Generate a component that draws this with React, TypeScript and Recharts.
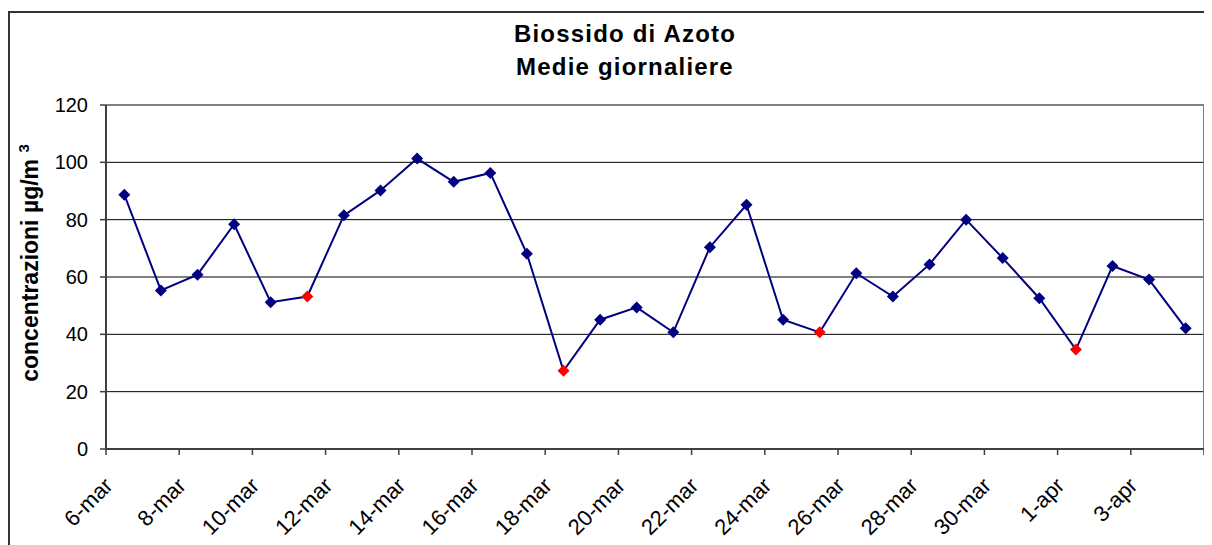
import React from "react";
import {
  LineChart,
  Line,
  XAxis,
  YAxis,
  CartesianGrid,
  ReferenceLine,
} from "recharts";

const dates = [
  "6-mar", "7-mar", "8-mar", "9-mar", "10-mar", "11-mar", "12-mar", "13-mar",
  "14-mar", "15-mar", "16-mar", "17-mar", "18-mar", "19-mar", "20-mar", "21-mar",
  "22-mar", "23-mar", "24-mar", "25-mar", "26-mar", "27-mar", "28-mar", "29-mar",
  "30-mar", "31-mar", "1-apr", "2-apr", "3-apr", "4-apr",
];

const no2 = [
  88.7, 55.3, 60.8, 78.4, 51.2, 53.2, 81.5, 90.2,
  101.3, 93.2, 96.3, 68.1, 27.3, 45.1, 49.4, 40.7,
  70.4, 85.2, 45.1, 40.7, 61.3, 53.2, 64.4, 80.0,
  66.6, 52.6, 34.7, 63.8, 59.1, 42.1,
];

// days drawn with a red marker
const highlighted = ["11-mar", "18-mar", "25-mar", "1-apr"];

const yTicks = [0, 20, 40, 60, 80, 100, 120];

const NAVY = "#000080";
const RED = "#FF0000";
const FONT = '"Liberation Sans", Arial, sans-serif';

const data = dates.map((d, i) => ({
  x: i + 0.5,
  date: d,
  value: no2[i],
  red: highlighted.includes(d),
}));

// tick marks sit on category boundaries, one label every two days
const xTicks = dates.map((_, i) => i).filter((i) => i % 2 === 0).concat([dates.length]);

const Diamond = (props: any) => {
  const { cx, cy, payload, index } = props;
  if (cx == null || cy == null) return null;
  const r = 6;
  return (
    <path
      key={`dot-${index}`}
      d={`M${cx},${cy - r}L${cx + r},${cy}L${cx},${cy + r}L${cx - r},${cy}Z`}
      fill={payload.red ? RED : NAVY}
      stroke="none"
    />
  );
};

const XTick = (props: any) => {
  const { x, y, payload } = props;
  const label = dates[payload.value];
  if (!label) return null;
  const tx = x + 8;
  const ty = y + 32;
  return (
    <text
      x={tx}
      y={ty}
      textAnchor="end"
      transform={`rotate(-45, ${tx}, ${ty})`}
      fontSize={22}
      fontFamily={FONT}
      fill="#000"
    >
      {label}
    </text>
  );
};

export default function App() {
  return (
    <div
      style={{
        position: "relative",
        top: 3,
        width: 1230,
        height: 560,
        borderTop: "2px solid #333",
        borderLeft: "2px solid #333",
        fontFamily: FONT,
      }}
    >
      <style>{"body{overflow:hidden}"}</style>
      <div
        style={{
          position: "absolute",
          left: 315,
          top: 4,
          width: 600,
          textAlign: "center",
          fontSize: 24,
          fontWeight: 700,
          lineHeight: "33px",
          letterSpacing: 1.2,
          color: "#000",
        }}
      >
        Biossido di Azoto
        <br />
        Medie giornaliere
      </div>
      <div
        style={{
          position: "absolute",
          left: -130,
          top: 237,
          width: 300,
          height: 26,
          lineHeight: "26px",
          textAlign: "center",
          fontSize: 23,
          fontWeight: 700,
          whiteSpace: "nowrap",
          transform: "rotate(-90deg)",
          color: "#000",
        }}
      >
        concentrazioni µg/m{" "}
        <span style={{ fontSize: 15, verticalAlign: "super", lineHeight: 0 }}>3</span>
      </div>
      <LineChart
        width={1220}
        height={540}
        data={data}
        margin={{ top: 92, right: 26, bottom: 20, left: 0 }}
      >
        <CartesianGrid vertical={false} stroke="#000" strokeWidth={1} />
        <XAxis
          dataKey="x"
          type="number"
          domain={[0, dates.length]}
          ticks={xTicks}
          interval={0}
          height={84}
          tickSize={6}
          tickMargin={0}
          tick={<XTick />}
          axisLine={{ stroke: "#404040", strokeWidth: 2 }}
          tickLine={{ stroke: "#404040", strokeWidth: 1.5 }}
        />
        <YAxis
          type="number"
          domain={[0, 120]}
          ticks={yTicks}
          width={96}
          tickSize={6}
          tickMargin={12}
          tick={{ fontSize: 20, fill: "#000", fontFamily: FONT }}
          axisLine={{ stroke: "#404040", strokeWidth: 2 }}
          tickLine={{ stroke: "#404040", strokeWidth: 1.5 }}
        />
        <ReferenceLine y={120} stroke="#808080" strokeWidth={2} />
        <ReferenceLine x={dates.length} stroke="#808080" strokeWidth={2} />
        <Line
          type="linear"
          dataKey="value"
          stroke={NAVY}
          strokeWidth={2}
          dot={<Diamond />}
          activeDot={false}
          isAnimationActive={false}
        />
      </LineChart>
    </div>
  );
}
